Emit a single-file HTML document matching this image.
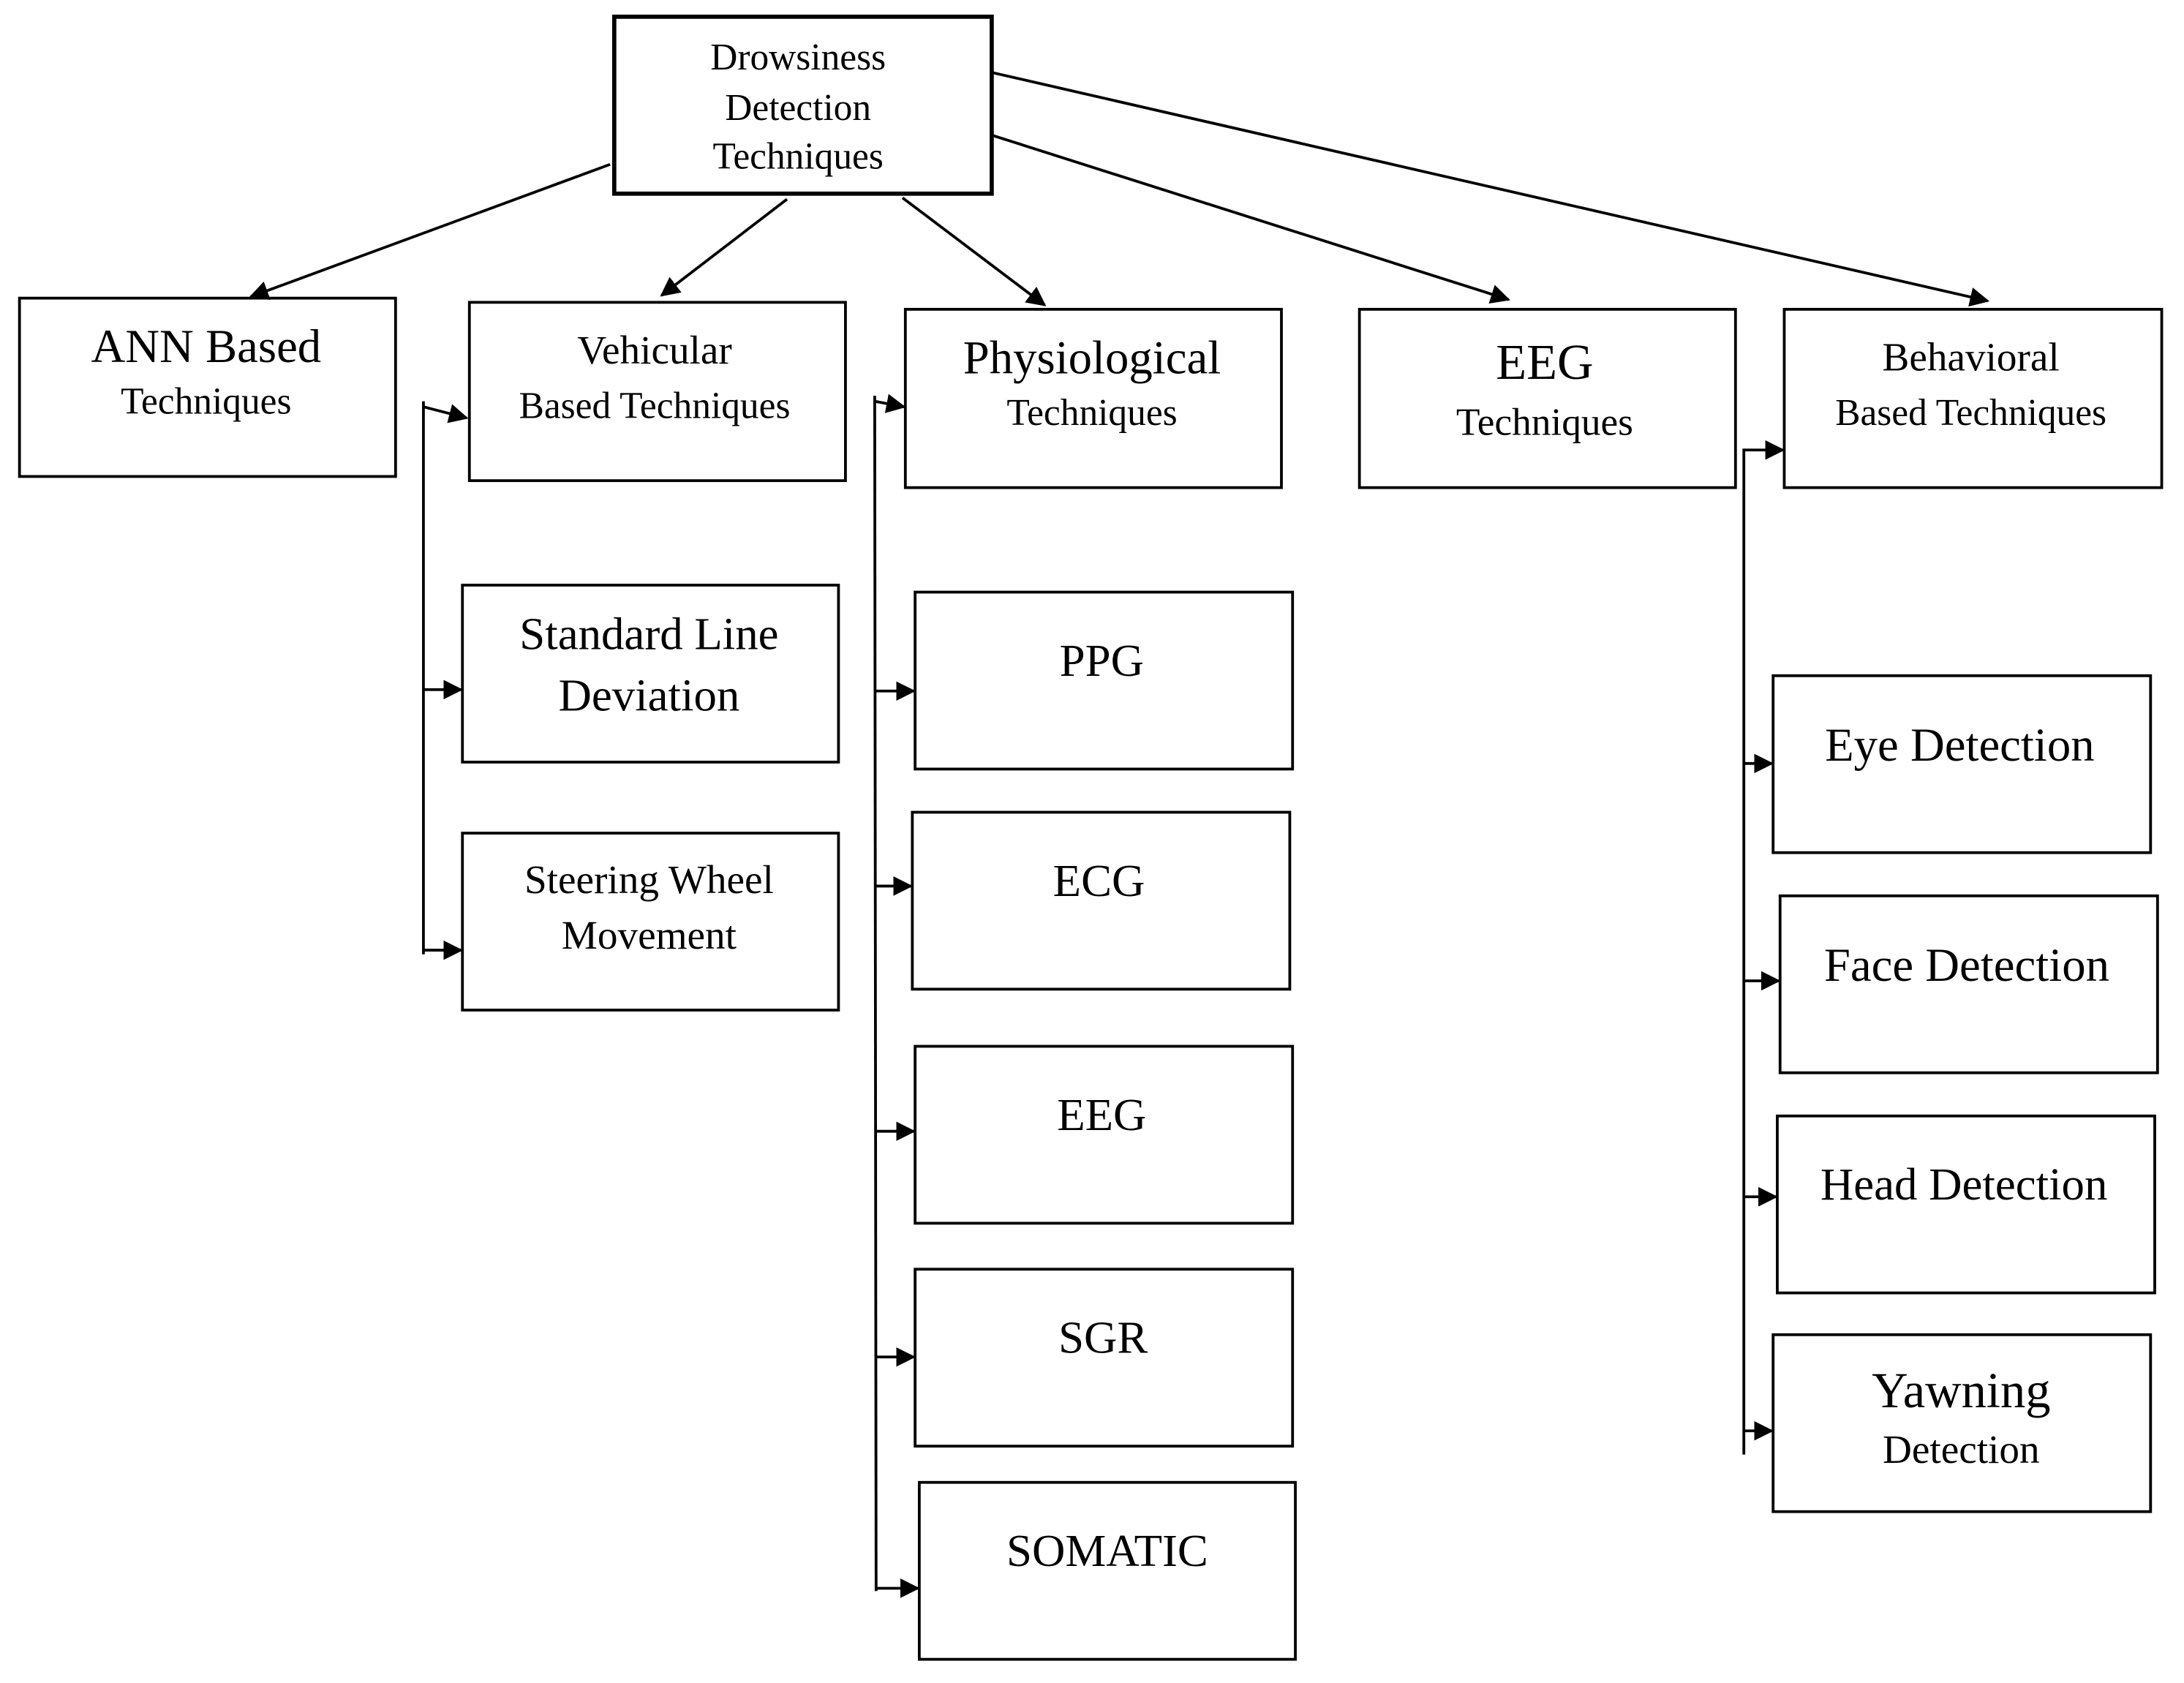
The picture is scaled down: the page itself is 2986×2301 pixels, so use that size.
<!DOCTYPE html>
<html><head><meta charset="utf-8"><style>
html,body{margin:0;padding:0;background:#fff;}
svg{display:block;}
text{font-family:"Liberation Serif",serif;fill:#000;text-anchor:middle;}
</style></head><body>
<svg width="2986" height="2301" viewBox="0 0 1568 1208" preserveAspectRatio="none" xmlns="http://www.w3.org/2000/svg">
<defs>
<marker id="b" viewBox="0 0 10 10" refX="9" refY="5" markerWidth="14" markerHeight="14" markerUnits="userSpaceOnUse" orient="auto"><path d="M0,0 L10,5 L0,10 z" fill="#000"/></marker></defs>
<g fill="none" stroke="#000" stroke-width="2">
<rect x="441" y="12" width="271" height="127" stroke-width="3"/>
<rect x="14" y="214" width="270" height="128"/>
<rect x="337" y="217" width="270" height="128"/>
<rect x="650" y="222" width="270" height="128"/>
<rect x="976" y="222" width="270" height="128"/>
<rect x="1281" y="222" width="271" height="128"/>
<rect x="332" y="420" width="270" height="127"/>
<rect x="332" y="598" width="270" height="127"/>
<rect x="657" y="425" width="271" height="127"/>
<rect x="655" y="583" width="271" height="127"/>
<rect x="657" y="751" width="271" height="127"/>
<rect x="657" y="911" width="271" height="127"/>
<rect x="660" y="1064" width="270" height="127"/>
<rect x="1273" y="485" width="271" height="127"/>
<rect x="1278" y="643" width="271" height="127"/>
<rect x="1276" y="801" width="271" height="127"/>
<rect x="1273" y="958" width="271" height="127"/>
</g>
<g stroke="#000" stroke-width="2" fill="none">
<line x1="438" y1="118" x2="180" y2="213" marker-end="url(#b)"/>
<line x1="565" y1="143" x2="475" y2="212" marker-end="url(#b)"/>
<line x1="648" y1="142" x2="750" y2="219" marker-end="url(#b)"/>
<line x1="712" y1="97" x2="1083" y2="215" marker-end="url(#b)"/>
<line x1="712" y1="52" x2="1427" y2="216" marker-end="url(#b)"/>
<line x1="304" y1="288" x2="304" y2="685"/>
<line x1="304" y1="292" x2="335" y2="300" marker-end="url(#b)"/>
<line x1="304" y1="495" x2="331" y2="495" marker-end="url(#b)"/>
<line x1="304" y1="682" x2="331" y2="682" marker-end="url(#b)"/>
<line x1="628" y1="284" x2="629" y2="1142"/>
<line x1="628" y1="288" x2="649" y2="292" marker-end="url(#b)"/>
<line x1="628" y1="496" x2="656" y2="496" marker-end="url(#b)"/>
<line x1="628" y1="636" x2="654" y2="636" marker-end="url(#b)"/>
<line x1="628" y1="812" x2="656" y2="812" marker-end="url(#b)"/>
<line x1="629" y1="974" x2="656" y2="974" marker-end="url(#b)"/>
<line x1="629" y1="1140" x2="659" y2="1140" marker-end="url(#b)"/>
<line x1="1252" y1="322" x2="1252" y2="1044"/>
<line x1="1252" y1="323" x2="1280" y2="323" marker-end="url(#b)"/>
<line x1="1252" y1="548" x2="1272" y2="548" marker-end="url(#b)"/>
<line x1="1252" y1="704" x2="1277" y2="704" marker-end="url(#b)"/>
<line x1="1252" y1="859" x2="1275" y2="859" marker-end="url(#b)"/>
<line x1="1252" y1="1027" x2="1272" y2="1027" marker-end="url(#b)"/>
</g>
<text x="573" y="50" font-size="27">Drowsiness</text>
<text x="573" y="86" font-size="27">Detection</text>
<text x="573" y="121" font-size="27">Techniques</text>
<text x="148" y="260" font-size="34">ANN Based</text>
<text x="148" y="297" font-size="27">Techniques</text>
<text x="470" y="261" font-size="29">Vehicular</text>
<text x="470" y="300" font-size="27">Based Techniques</text>
<text x="784" y="268" font-size="34">Physiological</text>
<text x="784" y="305" font-size="27">Techniques</text>
<text x="1109" y="272" font-size="36">EEG</text>
<text x="1109" y="312" font-size="28">Techniques</text>
<text x="1415" y="266" font-size="29">Behavioral</text>
<text x="1415" y="305" font-size="27">Based Techniques</text>
<text x="466" y="466" font-size="33">Standard Line</text>
<text x="466" y="510" font-size="33">Deviation</text>
<text x="466" y="641" font-size="29">Steering Wheel</text>
<text x="466" y="681" font-size="29">Movement</text>
<text x="791" y="485" font-size="33">PPG</text>
<text x="789" y="643" font-size="33">ECG</text>
<text x="791" y="811" font-size="33">EEG</text>
<text x="792" y="971" font-size="33">SGR</text>
<text x="795" y="1124" font-size="33">SOMATIC</text>
<text x="1407" y="546" font-size="34">Eye Detection</text>
<text x="1412" y="704" font-size="34">Face Detection</text>
<text x="1410" y="861" font-size="33">Head Detection</text>
<text x="1408" y="1010" font-size="36">Yawning</text>
<text x="1408" y="1050" font-size="29">Detection</text>
</svg>
</body></html>
